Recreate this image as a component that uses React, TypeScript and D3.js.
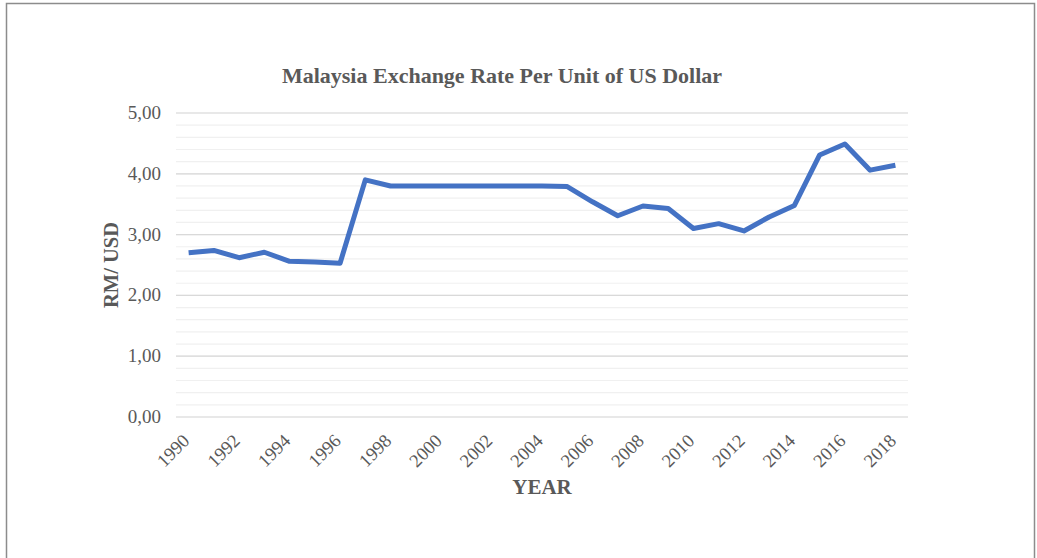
import React, { useRef, useEffect } from "react";
import * as d3 from "d3";

// values
const years = [
  1990, 1991, 1992, 1993, 1994, 1995, 1996, 1997, 1998, 1999, 2000, 2001, 2002,
  2003, 2004, 2005, 2006, 2007, 2008, 2009, 2010, 2011, 2012, 2013, 2014, 2015,
  2016, 2017, 2018
];
const rates = [
  2.7, 2.74, 2.62, 2.71, 2.56, 2.55, 2.53, 3.9, 3.8, 3.8, 3.8, 3.8, 3.8, 3.8,
  3.8, 3.79, 3.54, 3.31, 3.47, 3.43, 3.1, 3.18, 3.06, 3.29, 3.48, 4.31, 4.49,
  4.06, 4.14
];
const labelYears = years.filter((y) => y % 2 === 0);
const majorTicks = [0, 1, 2, 3, 4, 5];
const minorTicks = d3.range(0, 5.01, 0.2);

const W = 1037;
const H = 558;
const margin = { left: 176, right: 129, top: 113, bottom: 141 };
const textColor = "#595959";
const font = "'Liberation Serif', 'Times New Roman', serif";

const App = () => {
  const svgRef = useRef<SVGSVGElement>(null);

  useEffect(() => {
    const svg = d3.select(svgRef.current);
    svg.selectAll("*").remove();

    const x = d3
      .scaleBand<number>()
      .domain(years)
      .range([margin.left, W - margin.right]);
    const y = d3
      .scaleLinear()
      .domain([0, 5])
      .range([H - margin.bottom, margin.top]);
    const cx = (d: number) => (x(d) as number) + x.bandwidth() / 2;

    // frame
    svg
      .append("path")
      .attr("d", `M6.5,${H} V3.5 H1034.5 V${H}`)
      .attr("fill", "none")
      .attr("stroke", "#8c8c8c")
      .attr("stroke-width", 1.5);

    // minor grid
    svg
      .append("g")
      .selectAll("line")
      .data(minorTicks)
      .join("line")
      .attr("x1", margin.left)
      .attr("x2", W - margin.right)
      .attr("y1", (d) => y(d))
      .attr("y2", (d) => y(d))
      .attr("stroke", "#f0f0f0")
      .attr("stroke-width", 1.2);

    // major grid
    svg
      .append("g")
      .selectAll("line")
      .data(majorTicks)
      .join("line")
      .attr("x1", margin.left)
      .attr("x2", W - margin.right)
      .attr("y1", (d) => y(d))
      .attr("y2", (d) => y(d))
      .attr("stroke", "#d9d9d9")
      .attr("stroke-width", 1.2);

    // y labels
    svg
      .append("g")
      .selectAll("text")
      .data(majorTicks)
      .join("text")
      .attr("x", 161)
      .attr("y", (d) => y(d) + 6)
      .attr("text-anchor", "end")
      .attr("font-family", font)
      .attr("font-size", 19)
      .attr("fill", textColor)
      .text((d) => d3.format(".2f")(d).replace(".", ","));

    // x labels
    svg
      .append("g")
      .selectAll("text")
      .data(labelYears)
      .join("text")
      .attr(
        "transform",
        (d) => `translate(${cx(d) + 2},${H - margin.bottom + 25}) rotate(-45)`
      )
      .attr("text-anchor", "end")
      .attr("font-family", font)
      .attr("font-size", 18.5)
      .attr("fill", textColor)
      .text((d) => d);

    // line
    const lineGen = d3
      .line<number>()
      .x((d, i) => cx(years[i]))
      .y((d) => y(d));
    svg
      .append("path")
      .datum(rates)
      .attr("d", lineGen)
      .attr("fill", "none")
      .attr("stroke", "#4472C4")
      .attr("stroke-width", 5)
      .attr("stroke-linejoin", "round");

    // title
    svg
      .append("text")
      .attr("x", 502)
      .attr("y", 83)
      .attr("text-anchor", "middle")
      .attr("font-family", font)
      .attr("font-size", 22)
      .attr("font-weight", "bold")
      .attr("fill", textColor)
      .text("Malaysia Exchange Rate Per Unit of US Dollar");

    // axis titles
    svg
      .append("text")
      .attr("x", 542)
      .attr("y", 494)
      .attr("text-anchor", "middle")
      .attr("font-family", font)
      .attr("font-size", 21)
      .attr("font-weight", "bold")
      .attr("fill", textColor)
      .text("YEAR");

    svg
      .append("text")
      .attr("transform", `translate(118,265) rotate(-90)`)
      .attr("text-anchor", "middle")
      .attr("font-family", font)
      .attr("font-size", 20.5)
      .attr("font-weight", "bold")
      .attr("fill", textColor)
      .text("RM/ USD");
  }, []);

  return (
    <svg
      ref={svgRef}
      width={W}
      height={H}
      style={{ position: "absolute", left: 0, top: 0, background: "#fff" }}
    />
  );
};

export default App;
